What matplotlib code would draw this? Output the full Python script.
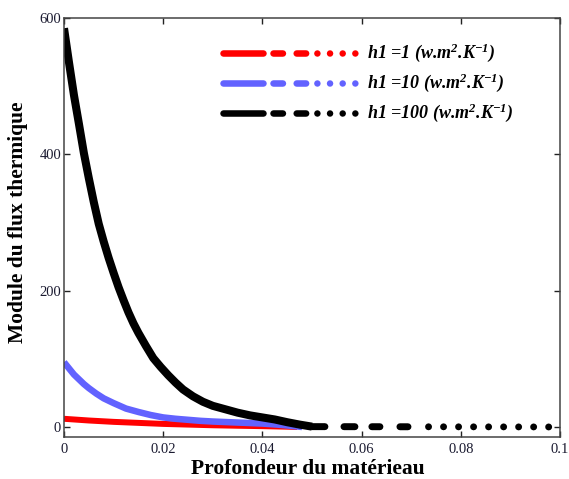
import matplotlib
matplotlib.use("Agg")
import matplotlib.pyplot as plt

# values
depth_h1 = [0, 0.005, 0.01, 0.015, 0.02, 0.025, 0.03, 0.035, 0.04, 0.045, 0.047]
flux_h1 = [12, 9.5, 7.5, 6, 4.5, 3.5, 2.5, 1.8, 1.2, 0.4, 0]

depth_h10 = [0, 0.001, 0.002, 0.003, 0.004, 0.005, 0.0065, 0.008, 0.01, 0.0125, 0.015,
             0.0175, 0.02, 0.0225, 0.025, 0.0275, 0.03, 0.035, 0.04, 0.043, 0.046, 0.048]
flux_h10 = [95, 86, 77, 70, 63, 57, 49, 42, 35, 27, 22,
            17.5, 14, 12, 10.5, 9, 8, 6.5, 5, 3.5, 1.5, 0]

depth_h100 = [0, 0.001, 0.002, 0.003, 0.004, 0.005, 0.006, 0.007, 0.008, 0.009, 0.01,
              0.011, 0.012, 0.013, 0.014, 0.015, 0.0165, 0.018, 0.0195, 0.021, 0.0225,
              0.024, 0.026, 0.028, 0.03, 0.0325, 0.035, 0.0375, 0.04, 0.0425, 0.045,
              0.0475, 0.05, 0.1]
flux_h100 = [585, 535, 487, 445, 402, 365, 330, 298, 272, 248, 226,
             205, 186, 168, 152, 138, 119, 101, 88, 76, 65,
             55, 45, 37, 31, 26, 21, 17, 14, 11, 7,
             3.5, 0.5, 0]

labels = ["h1 =1 (w.m$^{2}$.K$^{-1}$)",
          "h1 =10 (w.m$^{2}$.K$^{-1}$)",
          "h1 =100 (w.m$^{2}$.K$^{-1}$)"]
colors = ["#ff0000", "#6262ff", "#000000"]

xticks = [0, 0.02, 0.04, 0.06, 0.08, 0.1]
xticklabels = ["0", "0.02", "0.04", "0.06", "0.08", "0.1"]
yticks = [0, 200, 400, 600]

plt.rcParams["lines.scale_dashes"] = False
plt.rcParams["mathtext.fontset"] = "custom"
plt.rcParams["mathtext.rm"] = "Liberation Serif:bold:italic"
plt.rcParams["mathtext.it"] = "Liberation Serif:bold:italic"
plt.rcParams["mathtext.bf"] = "Liberation Serif:bold:italic"

fig = plt.figure(figsize=(5.69, 4.79), dpi=100)
ax = fig.add_axes([0.1125, 0.0877, 0.8717, 0.8747])

ax.plot(depth_h1, flux_h1, color=colors[0], lw=4.3, solid_capstyle="butt")
ax.plot(depth_h10, flux_h10, color=colors[1], lw=4.7, solid_capstyle="butt")
ax.plot(depth_h100[:-1], flux_h100[:-1], color=colors[2], lw=5.8,
        solid_capstyle="butt", solid_joinstyle="round")

# dashed / dotted tail of the h1=100 trace along zero
tail_style = (0, (9.3, 13.7, 7.9, 12.2, 5.8, 14.4, 5.8, 14.8) + (0.01, 10.8) * 9)
ax.plot(depth_h100[-2:], flux_h100[-2:], color=colors[2], lw=5.0,
        linestyle=tail_style, dash_capstyle="round")

ax.set_xlim(0, 0.1)
ax.set_ylim(-14.7, 600)
ax.set_xticks(xticks)
ax.set_xticklabels(xticklabels)
ax.set_yticks(yticks)
ax.tick_params(direction="in", length=4, width=1, top=True, right=True,
               labelsize=10.5, colors="#222222", labelcolor="#1a1a30")
ax.tick_params(axis="y", pad=2)
ax.tick_params(axis="x", pad=4)
for lab in ax.get_xticklabels() + ax.get_yticklabels():
    lab.set_family("Liberation Serif")
for s in ax.spines.values():
    s.set_linewidth(1.1)
    s.set_color("#444444")

ax.set_xlabel("Profondeur du matérieau", family="Liberation Serif",
              fontweight="bold", fontsize=15.5)
ax.xaxis.set_label_coords(0.491, -0.052)
ax.set_ylabel("Module du flux thermique", family="Liberation Serif",
              fontweight="bold", fontsize=15.5)
ax.yaxis.set_label_coords(-0.073, 0.513)

# legend drawn by hand, same pattern as the Mathcad trace style
legend_style = (0, (28.8, 7.2, 6.8, 9.9, 6.8, 8.1, 0.01, 9.1, 0.01, 9.1, 0.01, 9.1, 0.01, 20))
rows = [0.916, 0.845, 0.774]
for lab, col, yr in zip(labels, colors, rows):
    ax.plot([0.3212, 0.589], [yr, yr], transform=ax.transAxes, color=col, lw=4.7,
            linestyle=legend_style, dash_capstyle="round", clip_on=False)
    ax.text(0.611, yr, lab, transform=ax.transAxes, va="center", ha="left",
            family="Liberation Serif", fontweight="bold", style="italic", fontsize=13)

fig.savefig("out.png", dpi=100)
